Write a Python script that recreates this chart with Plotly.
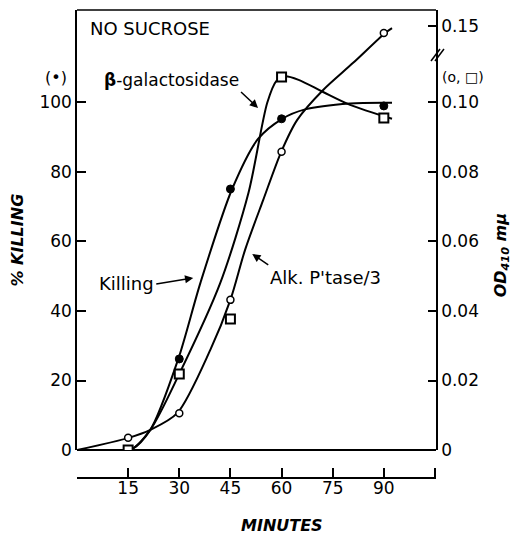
import plotly.graph_objects as go

# ---------------- data ----------------
minutes = [15, 30, 45, 60, 90]
killing_pct = [0, 26.2, 75.1, 95.3, 99.0]
bgal_od = [0.0, 0.0219, 0.0377, 0.1073, 0.0955]
alk_od = [0.0035, 0.0106, 0.0432, 0.0858, 0.148]

# hand-drawn curves
kill_curve_t = [0, 15.6, 21.5, 29.7, 36.2, 45.5, 53.1, 60.2, 66.9, 80.1, 92.4]
kill_curve_y = [0, 0, 5.8, 26.2, 48.1, 75.1, 89.5, 95.3, 98.0, 99.7, 99.9]
bgal_curve_t = [0, 15.6, 21.5, 30, 42, 50.3, 55.8, 58.5, 61, 65, 72.2, 80.1, 92.4]
bgal_curve_od = [0, 0, 0.0058, 0.0219, 0.048, 0.074, 0.0999, 0.1062, 0.1075, 0.1065,
                 0.103, 0.0993, 0.0953]
alk_curve_t = [0, 15.1, 21.5, 29.4, 39.1, 45, 49.3, 54.6, 59.9, 64.6, 72.2, 81, 90.4, 92.4]
alk_curve_od = [0, 0.0035, 0.0058, 0.0106, 0.0288, 0.0432, 0.0576, 0.0719, 0.0858, 0.095,
                0.1036, 0.1114, 0.148, 0.1494]

x_ticks = [15, 30, 45, 60, 75, 90]
left_ticks = [0, 20, 40, 60, 80, 100]
right_ticks_od = [0, 0.02, 0.04, 0.06, 0.08, 0.10, 0.15]
right_ticktext = ["0", "0.02", "0.04", "0.06", "0.08", "0.10", "0.15"]

BREAK_OD = 0.12
BREAK_OFFSET = 28  # axis units removed by the scale break


def od_axis(v):
    return v * 1000 if v < BREAK_OD else v * 1000 - BREAK_OFFSET


FONT = "DejaVu Sans"
BLK = "black"
LW = 2

fig = go.Figure()

fig.add_trace(go.Scatter(x=kill_curve_t, y=kill_curve_y, mode="lines",
                         line=dict(color=BLK, width=LW, shape="spline", smoothing=0.8),
                         hoverinfo="skip", showlegend=False))
fig.add_trace(go.Scatter(x=bgal_curve_t, y=[od_axis(v) for v in bgal_curve_od], mode="lines",
                         yaxis="y2",
                         line=dict(color=BLK, width=LW, shape="spline", smoothing=0.8),
                         hoverinfo="skip", showlegend=False))
fig.add_trace(go.Scatter(x=alk_curve_t, y=[od_axis(v) for v in alk_curve_od], mode="lines",
                         yaxis="y2",
                         line=dict(color=BLK, width=LW, shape="spline", smoothing=0.8),
                         hoverinfo="skip", showlegend=False))

fig.add_trace(go.Scatter(x=minutes, y=[od_axis(v) for v in bgal_od], mode="markers", yaxis="y2",
                         marker=dict(symbol="square", size=9, color="white",
                                     line=dict(width=2, color=BLK)),
                         showlegend=False))
fig.add_trace(go.Scatter(x=minutes, y=[od_axis(v) for v in alk_od], mode="markers", yaxis="y2",
                         marker=dict(symbol="circle", size=7, color="white",
                                     line=dict(width=1.5, color=BLK)),
                         showlegend=False))
fig.add_trace(go.Scatter(x=minutes, y=killing_pct, mode="markers",
                         marker=dict(symbol="circle", size=8, color=BLK,
                                     line=dict(width=1, color=BLK)),
                         showlegend=False))

YMAX = 126.6
XMAX = 105.3
TICKFONT = dict(size=17, family=FONT)

# page is shown with an 8px body margin, so the figure is offset by 8px
fig.update_layout(
    width=511, height=526,
    margin=dict(l=69, r=83, t=2, b=56),
    paper_bgcolor="white", plot_bgcolor="white",
    font=dict(family=FONT, size=15, color=BLK),
    xaxis=dict(range=[0, XMAX], anchor="free", position=0,
               tickvals=x_ticks,
               ticks="inside", ticklen=9, tickwidth=1.5, tickcolor=BLK,
               minor=dict(tick0=0, dtick=15, ticks="inside", ticklen=9, tickwidth=1.5,
                          tickcolor=BLK, showgrid=False),
               ticklabelstandoff=-5,
               showline=True, linewidth=1.5, linecolor=BLK,
               showgrid=False, zeroline=False,
               tickfont=TICKFONT),
    yaxis=dict(range=[0, YMAX], domain=[0.0598, 1], anchor="x",
               tickvals=left_ticks,
               ticks="inside", ticklen=9, tickwidth=1.5, tickcolor=BLK,
               showline=True, linewidth=1.5, linecolor=BLK,
               showgrid=False, zeroline=True, zerolinewidth=1.5, zerolinecolor=BLK,
               tickfont=TICKFONT),
    yaxis2=dict(range=[0, YMAX], overlaying="y", side="right", anchor="x",
                tickvals=[od_axis(v) for v in right_ticks_od], ticktext=right_ticktext,
                ticks="inside", ticklen=8, tickwidth=1.5, tickcolor=BLK,
                showline=True, linewidth=1.5, linecolor=BLK,
                showgrid=False, zeroline=False,
                tickfont=TICKFONT),
)

# top frame line
fig.add_shape(type="line", xref="paper", yref="paper", x0=0, x1=1, y0=1, y1=1,
              line=dict(color=BLK, width=1.5))


def px_to_paper(px, py):
    return (px - 76.6) / 359.4, (478 - py) / 468


# scale-break marks on right axis
for dx in (0, 4):
    x0, y0 = px_to_paper(431 + dx, 61)
    x1, y1 = px_to_paper(440 + dx, 49)
    fig.add_shape(type="line", xref="paper", yref="paper", x0=x0, y0=y0, x1=x1, y1=y1,
                  line=dict(color=BLK, width=1.5))

ann_font = dict(family=FONT, size=18, color=BLK)

fig.add_annotation(text="NO SUCROSE", x=3.3, y=121.2, xref="x", yref="y",
                   xanchor="left", yanchor="middle", showarrow=False, font=ann_font)

# labels with arrows (tip in data units, tail offset in pixels)
fig.add_annotation(text="<b>β</b>-galactosidase", x=53.1, y=98.4, xref="x", yref="y",
                   ax=-17, ay=-16, xanchor="right", yanchor="bottom",
                   showarrow=True, arrowhead=2, arrowsize=1.1, arrowwidth=1.5,
                   arrowcolor=BLK, font=dict(family=FONT, size=17, color=BLK))
fig.add_annotation(text="Killing", x=34.1, y=49.5, xref="x", yref="y",
                   ax=-37, ay=6, xanchor="right", yanchor="middle",
                   showarrow=True, arrowhead=2, arrowsize=1.1, arrowwidth=1.5,
                   arrowcolor=BLK, font=ann_font)
fig.add_annotation(text="Alk. P'tase/3", x=51.4, y=56.4, xref="x", yref="y",
                   ax=16, ay=11, xanchor="left", yanchor="top",
                   showarrow=True, arrowhead=2, arrowsize=1.1, arrowwidth=1.5,
                   arrowcolor=BLK, font=ann_font)

# symbol keys
fig.add_annotation(text="(•)", x=(55.5 - 76.6) / 359.4, y=107.3, xref="paper", yref="y",
                   xanchor="center", yanchor="middle", showarrow=False,
                   font=dict(family=FONT, size=16, color=BLK))
fig.add_annotation(text="(o, □)", x=(440 - 76.6) / 359.4, y=107.3, xref="paper", yref="y",
                   xanchor="left", yanchor="middle", showarrow=False,
                   font=dict(family=FONT, size=14, color=BLK))

# axis titles
fig.add_annotation(text="<b><i>% KILLING</i></b>", x=(17 - 76.6) / 359.4, y=60.4,
                   xref="paper", yref="y", textangle=-90, showarrow=False,
                   xanchor="center", yanchor="middle",
                   font=dict(family=FONT, size=16, color=BLK))
fig.add_annotation(text="<b><i>OD<sub>410</sub> mμ</i></b>", x=(501 - 76.6) / 359.4, y=56,
                   xref="paper", yref="y", textangle=-90, showarrow=False,
                   xanchor="center", yanchor="middle",
                   font=dict(family=FONT, size=16, color=BLK))
fig.add_annotation(text="<b><i>MINUTES</i></b>", x=(282 - 76.6) / 359.4, y=(478 - 525) / 468,
                   xref="paper", yref="paper", showarrow=False,
                   xanchor="center", yanchor="middle",
                   font=dict(family=FONT, size=16, color=BLK))

fig.write_html("out.html")
